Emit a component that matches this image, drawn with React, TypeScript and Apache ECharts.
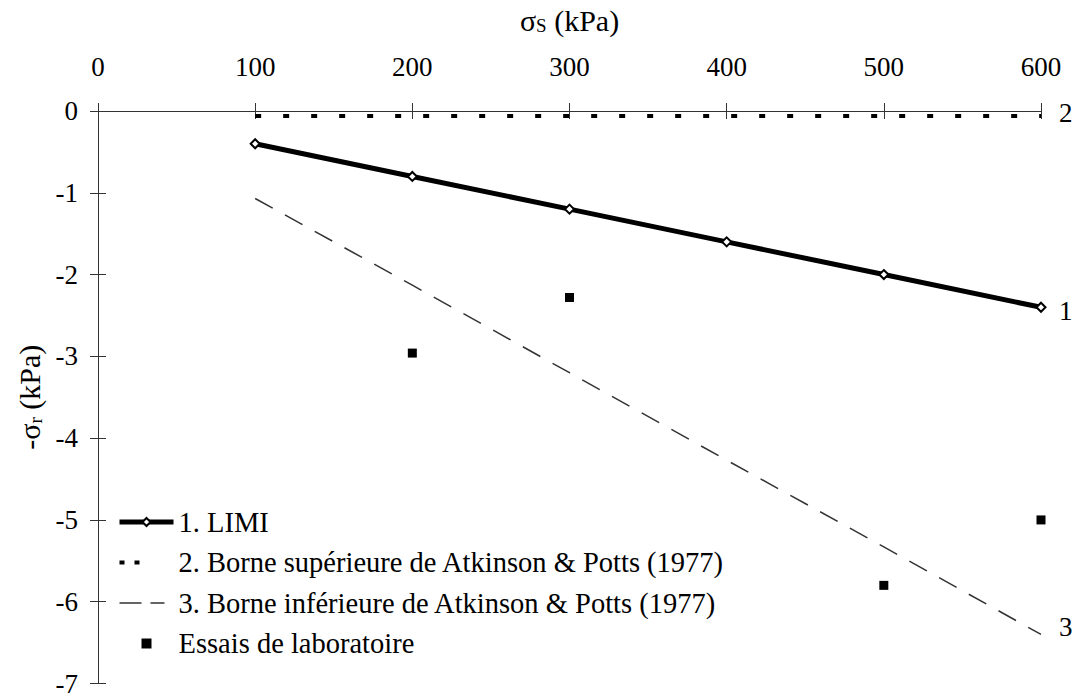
import React, { useEffect, useRef } from "react";
import * as echarts from "echarts";

const sigmaS = [100, 200, 300, 400, 500, 600];
const limi = [-0.4, -0.8, -1.2, -1.6, -2.0, -2.4];
const upperBound = [-0.06, -0.06, -0.06, -0.06, -0.06, -0.06];
const lowerBound = [-1.07, -2.13, -3.2, -4.27, -5.33, -6.4];
const labX = [200, 300, 500, 600];
const labY = [-2.96, -2.28, -5.8, -5.0];

const seriesNames = [
  "1. LIMI",
  "2. Borne supérieure de Atkinson & Potts (1977)",
  "3. Borne inférieure de Atkinson & Potts (1977)",
  "Essais de laboratoire",
];
const endLabels = ["1", "2", "3"];

const FONT = "'Liberation Serif', 'Times New Roman', serif";

export default function App() {
  const ref = useRef<HTMLDivElement>(null);
  useEffect(() => {
    if (!ref.current) return;
    const chart = echarts.init(ref.current, null, { renderer: "svg" });
    const pair = (xs: number[], ys: number[]) => xs.map((x, i) => [x, ys[i]]);
    const endLabel = (txt: string, offset: number[]) => ({
      show: true,
      formatter: txt,
      distance: 18,
      offset,
      color: "#000",
      fontFamily: FONT,
      fontSize: 27,
    });
    const rich = {
      sub: { fontFamily: FONT, fontSize: 19, color: "#000", padding: [11, 0, 0, 0] },
    };
    const nameStyle = { color: "#000", fontFamily: FONT, fontSize: 30, rich };
    const tickLabel = (margin: number) => ({
      color: "#000",
      fontFamily: FONT,
      fontSize: 27,
      margin,
    });
    chart.setOption({
      animation: false,
      backgroundColor: "#fff",
      textStyle: { fontFamily: FONT, color: "#000" },
      grid: { left: 98, right: 41, top: 111, bottom: 10, containLabel: false },
      xAxis: [
        {
          type: "value",
          position: "top",
          min: 0,
          max: 600,
          interval: 100,
          name: "σ{sub|S} (kPa)",
          nameLocation: "middle",
          nameGap: 76,
          nameTextStyle: nameStyle,
          axisLine: { show: true, onZero: false, lineStyle: { color: "#333", width: 1 } },
          axisTick: { show: true, inside: false, length: 8, lineStyle: { color: "#333" } },
          axisLabel: tickLabel(31),
          splitLine: { show: false },
        },
        {
          type: "value",
          position: "top",
          min: 0,
          max: 600,
          interval: 100,
          axisLine: { show: false },
          axisTick: { show: true, inside: true, length: 8, lineStyle: { color: "#333" } },
          axisLabel: { show: false },
          splitLine: { show: false },
        },
      ],
      yAxis: [
        {
          type: "value",
          min: -7,
          max: 0,
          interval: 1,
          name: "-σ{sub|r} (kPa)",
          nameLocation: "middle",
          nameGap: 50,
          nameTextStyle: nameStyle,
          axisLine: { show: true, onZero: false, lineStyle: { color: "#333", width: 1 } },
          axisTick: { show: true, inside: false, length: 8, lineStyle: { color: "#333" } },
          axisLabel: tickLabel(20),
          splitLine: { show: false },
        },
        {
          type: "value",
          min: -7,
          max: 0,
          interval: 1,
          position: "left",
          axisLine: { show: false },
          axisTick: { show: true, inside: true, length: 8, lineStyle: { color: "#333" } },
          axisLabel: { show: false },
          splitLine: { show: false },
        },
      ],
      legend: {
        orient: "vertical",
        left: 112,
        top: 502,
        itemWidth: 54,
        itemHeight: 10,
        itemGap: 10.5,
        data: [
          { name: seriesNames[0], lineStyle: { width: 5, color: "#000" } },
          {
            name: seriesNames[1],
            lineStyle: { width: 4, color: "#000", type: [5, 10, 5, 100] },
            itemStyle: { color: "rgba(0,0,0,0)", borderWidth: 0 },
          },
          {
            name: seriesNames[2],
            lineStyle: { width: 1.5, color: "#333", type: [22, 9, 14, 100] },
            itemStyle: { color: "rgba(0,0,0,0)", borderWidth: 0 },
          },
          { name: seriesNames[3], icon: "path://M0,0L10,0L10,10L0,10Z", itemStyle: { color: "#000" } },
        ],
        textStyle: { color: "#000", fontFamily: FONT, fontSize: 28.5, lineHeight: 30 },
      },
      series: [
        {
          name: seriesNames[0],
          type: "line",
          data: pair(sigmaS, limi),
          symbol: "diamond",
          symbolSize: 9,
          itemStyle: { color: "#fff", borderColor: "#000", borderWidth: 2 },
          lineStyle: { color: "#000", width: 5 },
          endLabel: endLabel(endLabels[0], [0, 4]),
          z: 3,
        },
        {
          name: seriesNames[1],
          type: "line",
          data: pair(sigmaS, upperBound),
          symbol: "none",
          itemStyle: { color: "#000" },
          lineStyle: { color: "#000", width: 4, type: [6, 22] },
          endLabel: endLabel(endLabels[1], [0, -3]),
        },
        {
          name: seriesNames[2],
          type: "line",
          data: pair(sigmaS, lowerBound),
          symbol: "none",
          itemStyle: { color: "#333" },
          lineStyle: { color: "#333", width: 1.5, type: [20, 14] },
          endLabel: endLabel(endLabels[2], [0, -7]),
        },
        {
          name: seriesNames[3],
          type: "scatter",
          data: pair(labX, labY),
          symbol: "rect",
          symbolSize: 9,
          itemStyle: { color: "#000", opacity: 1 },
        },
      ],
    });
    return () => chart.dispose();
  }, []);
  return (
    <div
      ref={ref}
      style={{ position: "fixed", left: 0, top: 0, width: 1082, height: 697, background: "#fff" }}
    />
  );
}
